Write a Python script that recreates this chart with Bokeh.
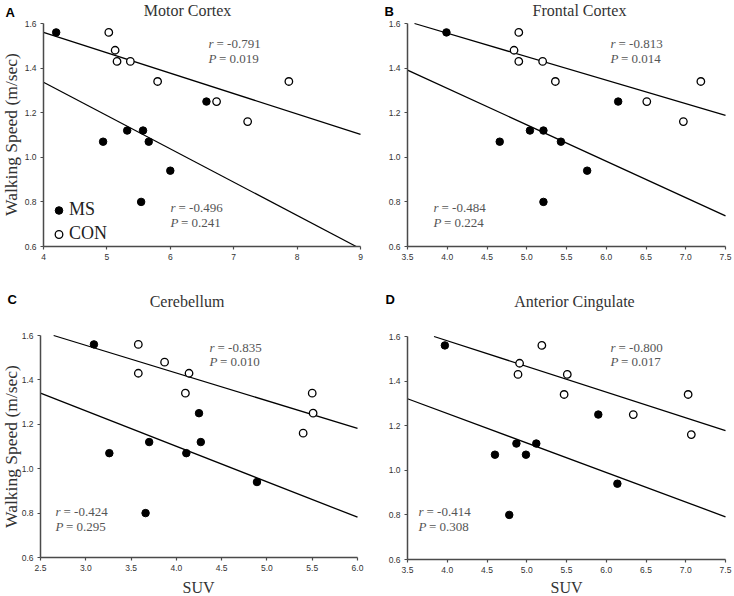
import numpy as np
from bokeh.plotting import figure
from bokeh.models import Range1d, FixedTicker, Label, Legend, LegendItem, NumeralTickFormatter
from bokeh.layouts import gridplot
from bokeh.embed import file_html
from bokeh.resources import INLINE

# ---------------- data ----------------
panel_letters = ["A", "B", "C", "D"]
panel_titles = ["Motor Cortex", "Frontal Cortex", "Cerebellum", "Anterior Cingulate"]

# walking speed (m/sec) per subject, same order in every panel
ms_speed = [1.56, 1.07, 1.12, 1.12, 1.07, 0.94, 0.80, 1.25]
con_speed = [1.56, 1.48, 1.43, 1.43, 1.34, 1.25, 1.34, 1.16]

# SUV per subject and region
ms_suv_motor = [4.20, 4.94, 5.32, 5.57, 5.66, 6.00, 5.54, 6.57]
con_suv_motor = [5.03, 5.13, 5.16, 5.37, 5.80, 6.73, 7.87, 7.22]
ms_suv_frontal = [3.99, 4.66, 5.04, 5.21, 5.43, 5.76, 5.21, 6.15]
con_suv_frontal = [4.90, 4.84, 4.90, 5.20, 5.36, 6.51, 7.19, 6.97]
ms_suv_cereb = [3.09, 3.26, 3.70, 4.27, 4.11, 4.89, 3.66, 4.25]
con_suv_cereb = [3.58, 3.87, 3.58, 4.14, 4.10, 5.51, 5.50, 5.40]
ms_suv_acing = [3.97, 4.60, 4.87, 5.12, 4.99, 6.14, 4.78, 5.90]
con_suv_acing = [5.19, 4.91, 4.89, 5.51, 5.47, 6.34, 7.03, 7.07]

con_r = ["-0.791", "-0.813", "-0.835", "-0.800"]
con_p = ["0.019", "0.014", "0.010", "0.017"]
ms_r = ["-0.496", "-0.484", "-0.424", "-0.414"]
ms_p = ["0.241", "0.224", "0.295", "0.308"]

x_ranges = [(4, 9), (3.5, 7.5), (2.5, 6.0), (3.5, 7.5)]
y_range = (0.6, 1.6)
x_ticks = [[4, 5, 6, 7, 8, 9],
           [3.5, 4.0, 4.5, 5.0, 5.5, 6.0, 6.5, 7.0, 7.5],
           [2.5, 3.0, 3.5, 4.0, 4.5, 5.0, 5.5, 6.0],
           [3.5, 4.0, 4.5, 5.0, 5.5, 6.0, 6.5, 7.0, 7.5]]
x_formats = ["0", "0.0", "0.0", "0.0"]
y_ticks = [0.6, 0.8, 1.0, 1.2, 1.4, 1.6]

legend_labels = ["MS", "CON"]
y_label = "Walking Speed (m/sec)"
x_label = "SUV"

ms_suv = [ms_suv_motor, ms_suv_frontal, ms_suv_cereb, ms_suv_acing]
con_suv = [con_suv_motor, con_suv_frontal, con_suv_cereb, con_suv_acing]

# ---------------- layout / style ----------------
SERIF = "Liberation Serif"
SANS = "Liberation Sans"
AX = "#4a4a4a"
TXT = "#555555"

# figure size and the pixel box of the axes inside it: (w, h, left, top, axes_w, axes_h)
geom = [
    (367, 290, 43, 23, 317, 223),
    (367, 290, 40, 23, 318, 223),
    (367, 306, 40, 45, 317, 222),
    (367, 306, 40, 46, 318, 223),
]
# text positions in figure pixels (x, y from top)
letter_pos = [(5, 11.5), (17, 11), (7, 9), (18, 9)]
title_pos = [(187, 10), (212, 10), (186.5, 11), (207, 11)]
ylabel_pos = {0: (10, 134), 2: (10, 156)}
xlabel_pos = {2: (198, 297), 3: (199, 297)}
con_txt = [(208, 43, 58), (243, 43, 58), (209, 57, 71), (243, 57, 71)]
ms_txt = [(170, 207, 222), (66, 207, 222), (55, 221, 236), (51, 221, 236)]


def clip_segment(k, b, x0, x1, y0, y1):
    xa, xb = (y1 - b) / k, (y0 - b) / k
    lo = max(x0, min(xa, xb))
    hi = min(x1, max(xa, xb))
    xs = np.array([lo, hi])
    return xs, k * xs + b


figs = []
for i in range(4):
    w, h, L, T, AW, AH = geom[i]
    x0, x1 = x_ranges[i]
    y0, y1 = y_range
    ppx = AW / (x1 - x0)
    ppy = AH / (y1 - y0)

    def X(px):
        return x0 + (px - L) / ppx

    def Y(py):
        return y1 - (py - T) / ppy

    p = figure(width=w, height=h, output_backend="svg", toolbar_location=None,
               x_range=Range1d(X(0), X(w)), y_range=Range1d(Y(h), Y(0)),
               min_border=0, min_border_left=0, min_border_right=0,
               min_border_top=0, min_border_bottom=0)
    p.outline_line_color = None
    p.xgrid.visible = False
    p.ygrid.visible = False
    p.background_fill_color = "white"
    p.border_fill_color = "white"
    for ax in (p.xaxis[0], p.yaxis[0]):
        ax.axis_line_color = AX
        ax.axis_line_width = 1.5
        ax.major_tick_line_color = AX
        ax.major_tick_line_width = 1.2
        ax.major_tick_out = 3
        ax.major_tick_in = 0
        ax.minor_tick_line_color = None
        ax.major_label_text_font = SANS
        ax.major_label_text_font_size = "8.5px"
        ax.major_label_text_color = "#333333"
        ax.major_label_standoff = 4
    p.xaxis.fixed_location = y0
    p.xaxis.bounds = (x0, x1)
    p.yaxis.fixed_location = x0
    p.yaxis.bounds = (y0, y1)
    p.xaxis.ticker = FixedTicker(ticks=x_ticks[i])
    p.xaxis.formatter = NumeralTickFormatter(format=x_formats[i])
    p.yaxis.ticker = FixedTicker(ticks=y_ticks)
    p.yaxis.formatter = NumeralTickFormatter(format="0.0")

    # regression lines fitted from the data, clipped to the axes box
    for xs, ys in ((ms_suv[i], ms_speed), (con_suv[i], con_speed)):
        k, b = np.polyfit(xs, ys, 1)
        lx, ly = clip_segment(k, b, x0, x1, y0, y1)
        p.line(lx, ly, line_color="black", line_width=1.3)

    r_ms = p.scatter(ms_suv[i], ms_speed, size=7.5, marker="circle",
                     fill_color="black", line_color="black", line_width=1)
    r_con = p.scatter(con_suv[i], con_speed, size=7.5, marker="circle",
                      fill_color="white", line_color="black", line_width=1.3)

    def annot(px, py, letter, rest):
        p.add_layout(Label(x=X(px), y=Y(py), text=letter, text_font=SERIF,
                           text_font_style="italic", text_font_size="13px", text_color=TXT,
                           text_baseline="middle", text_align="left"))
        p.add_layout(Label(x=X(px), y=Y(py), x_offset=(8 if letter == "r" else 10.5),
                           text=rest, text_font=SERIF, text_font_size="13px",
                           text_color=TXT, text_baseline="middle", text_align="left"))

    px, pr, pp = con_txt[i]
    annot(px, pr, "r", "= " + con_r[i])
    annot(px, pp, "P", "= " + con_p[i])
    px, pr, pp = ms_txt[i]
    annot(px, pr, "r", "= " + ms_r[i])
    annot(px, pp, "P", "= " + ms_p[i])

    lx, ly = letter_pos[i]
    p.add_layout(Label(x=X(lx), y=Y(ly), text=panel_letters[i],
                       text_font=SANS, text_font_style="bold", text_font_size="13px",
                       text_color="black", text_align="left", text_baseline="middle"))
    tx, ty = title_pos[i]
    p.add_layout(Label(x=X(tx), y=Y(ty), text=panel_titles[i],
                       text_font=SERIF, text_font_size="16px", text_color="#333333",
                       text_align="center", text_baseline="middle"))

    if i in ylabel_pos:
        yx, yy = ylabel_pos[i]
        p.add_layout(Label(x=X(yx), y=Y(yy), text=y_label,
                           text_font=SERIF, text_font_size="17.5px", text_color="#333333",
                           text_align="center", text_baseline="middle", angle=np.pi / 2))
    if i in xlabel_pos:
        xx, xy = xlabel_pos[i]
        p.add_layout(Label(x=X(xx), y=Y(xy), text=x_label,
                           text_font=SERIF, text_font_size="16px", text_color="#333333",
                           text_align="center", text_baseline="middle"))

    if i == 0:
        leg = Legend(items=[LegendItem(label=legend_labels[0], renderers=[r_ms]),
                            LegendItem(label=legend_labels[1], renderers=[r_con])],
                     location=(L + 6, h - T - AH + 2), padding=0, margin=0, spacing=3,
                     glyph_width=19, glyph_height=20, label_standoff=1,
                     label_text_font=SERIF, label_text_font_size="18px",
                     label_text_color="#222222", background_fill_alpha=0,
                     border_line_alpha=0)
        p.add_layout(leg, "center")
    figs.append(p)

grid = gridplot([[figs[0], figs[1]], [figs[2], figs[3]]], toolbar_location=None)
open("out.html", "w").write(file_html(grid, INLINE))
